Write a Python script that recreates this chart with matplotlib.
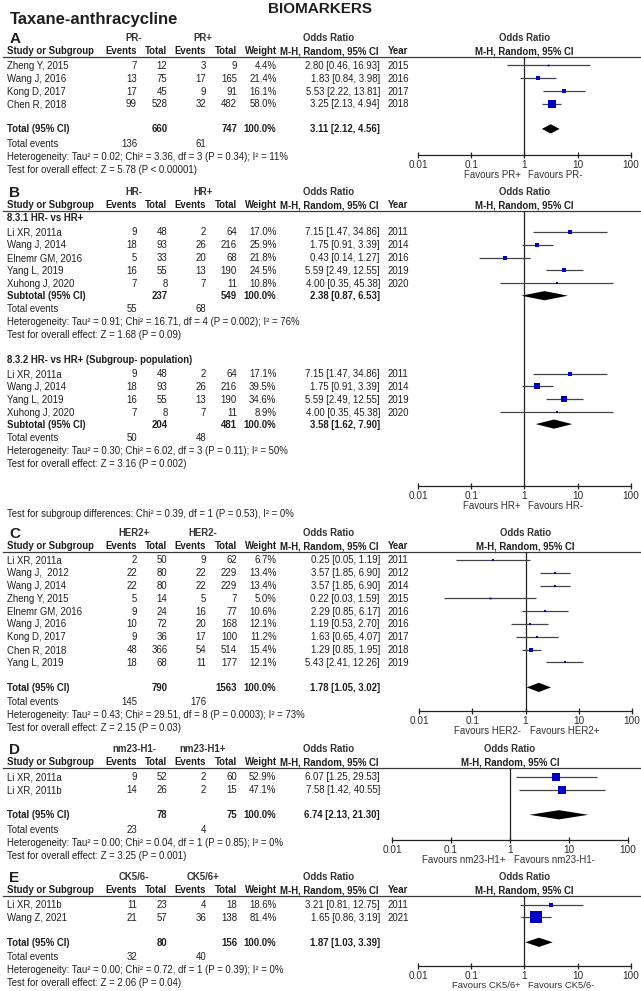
import matplotlib
matplotlib.use("Agg")
import matplotlib.pyplot as plt
from matplotlib.patches import Polygon
from matplotlib.ticker import NullLocator

plt.rcParams['font.family'] = ['Liberation Sans', 'DejaVu Sans']

# ---------------- data ----------------
# A: PR- vs PR+
a_study = ["Zheng Y, 2015", "Wang J, 2016", "Kong D, 2017", "Chen R, 2018"]
a_ev1 = [7, 13, 17, 99]
a_tot1 = [12, 75, 45, 528]
a_ev2 = [3, 17, 9, 32]
a_tot2 = [9, 165, 91, 482]
a_weight = [4.4, 21.4, 16.1, 58.0]
a_or = [2.80, 1.83, 5.53, 3.25]
a_lo = [0.46, 0.84, 2.22, 2.13]
a_hi = [16.93, 3.98, 13.81, 4.94]
a_year = [2015, 2016, 2017, 2018]
a_total = [660, 747]
a_pooled = [3.11, 2.12, 4.56]
a_events = [136, 61]
a_het = "Heterogeneity: Tau² = 0.02; Chi² = 3.36, df = 3 (P = 0.34); I² = 11%"
a_z = "Test for overall effect: Z = 5.78 (P < 0.00001)"

# B: HR- vs HR+, subgroup 8.3.1
b1_study = ["Li XR, 2011a", "Wang J, 2014", "Elnemr GM, 2016", "Yang L, 2019", "Xuhong J, 2020"]
b1_ev1 = [9, 18, 5, 16, 7]
b1_tot1 = [48, 93, 33, 55, 8]
b1_ev2 = [2, 26, 20, 13, 7]
b1_tot2 = [64, 216, 68, 190, 11]
b1_weight = [17.0, 25.9, 21.8, 24.5, 10.8]
b1_or = [7.15, 1.75, 0.43, 5.59, 4.00]
b1_lo = [1.47, 0.91, 0.14, 2.49, 0.35]
b1_hi = [34.86, 3.39, 1.27, 12.55, 45.38]
b1_year = [2011, 2014, 2016, 2019, 2020]
b1_total = [237, 549]
b1_pooled = [2.38, 0.87, 6.53]
b1_events = [55, 68]
b1_het = "Heterogeneity: Tau² = 0.91; Chi² = 16.71, df = 4 (P = 0.002); I² = 76%"
b1_z = "Test for overall effect: Z = 1.68 (P = 0.09)"

# B: subgroup 8.3.2
b2_study = ["Li XR, 2011a", "Wang J, 2014", "Yang L, 2019", "Xuhong J, 2020"]
b2_ev1 = [9, 18, 16, 7]
b2_tot1 = [48, 93, 55, 8]
b2_ev2 = [2, 26, 13, 7]
b2_tot2 = [64, 216, 190, 11]
b2_weight = [17.1, 39.5, 34.6, 8.9]
b2_or = [7.15, 1.75, 5.59, 4.00]
b2_lo = [1.47, 0.91, 2.49, 0.35]
b2_hi = [34.86, 3.39, 12.55, 45.38]
b2_year = [2011, 2014, 2019, 2020]
b2_total = [204, 481]
b2_pooled = [3.58, 1.62, 7.90]
b2_events = [50, 48]
b2_het = "Heterogeneity: Tau² = 0.30; Chi² = 6.02, df = 3 (P = 0.11); I² = 50%"
b2_z = "Test for overall effect: Z = 3.16 (P = 0.002)"
b_diff = "Test for subgroup differences: Chi² = 0.39, df = 1 (P = 0.53), I² = 0%"

# C: HER2+ vs HER2-
c_study = ["Li XR, 2011a", "Wang J,  2012", "Wang J, 2014", "Zheng Y, 2015", "Elnemr GM, 2016",
           "Wang J, 2016", "Kong D, 2017", "Chen R, 2018", "Yang L, 2019"]
c_ev1 = [2, 22, 22, 5, 9, 10, 9, 48, 18]
c_tot1 = [50, 80, 80, 14, 24, 72, 36, 366, 68]
c_ev2 = [9, 22, 22, 5, 16, 20, 17, 54, 11]
c_tot2 = [62, 229, 229, 7, 77, 168, 100, 514, 177]
c_weight = [6.7, 13.4, 13.4, 5.0, 10.6, 12.1, 11.2, 15.4, 12.1]
c_or = [0.25, 3.57, 3.57, 0.22, 2.29, 1.19, 1.63, 1.29, 5.43]
c_lo = [0.05, 1.85, 1.85, 0.03, 0.85, 0.53, 0.65, 0.85, 2.41]
c_hi = [1.19, 6.90, 6.90, 1.59, 6.17, 2.70, 4.07, 1.95, 12.26]
c_year = [2011, 2012, 2014, 2015, 2016, 2016, 2017, 2018, 2019]
c_total = [790, 1563]
c_pooled = [1.78, 1.05, 3.02]
c_events = [145, 176]
c_het = "Heterogeneity: Tau² = 0.43; Chi² = 29.51, df = 8 (P = 0.0003); I² = 73%"
c_z = "Test for overall effect: Z = 2.15 (P = 0.03)"

# D: nm23-H1- vs nm23-H1+
d_study = ["Li XR, 2011a", "Li XR, 2011b"]
d_ev1 = [9, 14]
d_tot1 = [52, 26]
d_ev2 = [2, 2]
d_tot2 = [60, 15]
d_weight = [52.9, 47.1]
d_or = [6.07, 7.58]
d_lo = [1.25, 1.42]
d_hi = [29.53, 40.55]
d_total = [78, 75]
d_pooled = [6.74, 2.13, 21.30]
d_events = [23, 4]
d_het = "Heterogeneity: Tau² = 0.00; Chi² = 0.04, df = 1 (P = 0.85); I² = 0%"
d_z = "Test for overall effect: Z = 3.25 (P = 0.001)"

# E: CK5/6- vs CK5/6+
e_study = ["Li XR, 2011b", "Wang Z, 2021"]
e_ev1 = [11, 21]
e_tot1 = [23, 57]
e_ev2 = [4, 36]
e_tot2 = [18, 138]
e_weight = [18.6, 81.4]
e_or = [3.21, 1.65]
e_lo = [0.81, 0.86]
e_hi = [12.75, 3.19]
e_year = [2011, 2021]
e_total = [80, 156]
e_pooled = [1.87, 1.03, 3.39]
e_events = [32, 40]
e_het = "Heterogeneity: Tau² = 0.00; Chi² = 0.72, df = 1 (P = 0.39); I² = 0%"
e_z = "Test for overall effect: Z = 2.06 (P = 0.04)"

# ---------------- layout / style ----------------
W, H = 641, 991
TXT = '#1e1e1e'
GREY = '#3a3a3a'
BLUE = '#0000c4'
FS = 6.9
STEP = 12.8
COL = dict(ev1=137, tot1=167.5, ev2=206, tot2=237, w=276.5, ci=380, year=388)

fig = plt.figure(figsize=(W / 100, H / 100), dpi=100)
bg = fig.add_axes([0, 0, 1, 1])
bg.set_xlim(0, W)
bg.set_ylim(H, 0)
bg.axis('off')


def txt(x, y, s, ha='left', bold=False, size=FS, color=TXT):
    # y is the middle of the capital letters
    bg.text(x, y + 0.716 * size * 100 / 72 / 2, s, ha=ha, va='baseline', fontsize=size,
            fontweight='bold' if bold else 'normal', color=color)


def fmt_ci(v):
    return f"{v[0]:.2f} [{v[1]:.2f}, {v[2]:.2f}]"


def header(letter, g1, g2, yline, x1, year=True):
    txt(9.5, yline - 19, letter, bold=True, size=11)
    txt(134, yline - 19, g1, ha='center', bold=True, color='#333333')
    txt(203, yline - 19, g2, ha='center', bold=True, color='#333333')
    txt(329, yline - 19, "Odds Ratio", ha='center', bold=True, color='#333333')
    txt(329, yline - 6, "M-H, Random, 95% CI", ha='center', bold=True)
    txt(7, yline - 6, "Study or Subgroup", bold=True)
    txt(COL['ev1'], yline - 6, "Events", ha='right', bold=True)
    txt(COL['tot1'], yline - 6, "Total", ha='right', bold=True)
    txt(COL['ev2'], yline - 6, "Events", ha='right', bold=True)
    txt(COL['tot2'], yline - 6, "Total", ha='right', bold=True)
    txt(COL['w'], yline - 6, "Weight", ha='right', bold=True)
    if year:
        txt(COL['year'], yline - 6, "Year", bold=True)
    txt(x1, yline - 19, "Odds Ratio", ha='center', bold=True, color='#333333')
    txt(x1, yline - 6, "M-H, Random, 95% CI", ha='center', bold=True)
    bg.plot([3, W], [yline, yline], color=GREY, lw=0.9)


def study_block(y0, study, ev1, tot1, ev2, tot2, weight, ors, los, his, years):
    ys = [y0 + i * STEP for i in range(len(study))]
    for i, y in enumerate(ys):
        txt(7, y, study[i])
        txt(COL['ev1'], y, str(ev1[i]), ha='right')
        txt(COL['tot1'], y, str(tot1[i]), ha='right')
        txt(COL['ev2'], y, str(ev2[i]), ha='right')
        txt(COL['tot2'], y, str(tot2[i]), ha='right')
        txt(COL['w'], y, f"{weight[i]:.1f}%", ha='right')
        txt(COL['ci'], y, fmt_ci([ors[i], los[i], his[i]]), ha='right')
        if years is not None:
            txt(COL['year'], y, str(years[i]))
    return ys


def summary_block(y, label, total, pooled, events, het, z, gap=14.5):
    txt(7, y, label, bold=True)
    txt(COL['tot1'], y, str(total[0]), ha='right', bold=True)
    txt(COL['tot2'], y, str(total[1]), ha='right', bold=True)
    txt(COL['w'], y, "100.0%", ha='right', bold=True)
    txt(COL['ci'], y, fmt_ci(pooled), ha='right', bold=True)
    ye = y + gap
    txt(7, ye, "Total events")
    txt(COL['ev1'], ye, str(events[0]), ha='right')
    txt(COL['ev2'], ye, str(events[1]), ha='right')
    txt(7, ye + 13, het)
    txt(7, ye + 26, z)
    return ye + 26


def forest(yline, yaxis, xl, xr, groups, fav, fav_gap=19.5, fav_size=7):
    ax = fig.add_axes([xl / W, 1 - yaxis / H, (xr - xl) / W, (yaxis - yline) / H])
    ax.patch.set_alpha(0)
    ax.set_xscale('log')
    ax.set_xlim(0.01, 100)
    ax.set_ylim(yaxis, yline)
    for s in ['top', 'left', 'right']:
        ax.spines[s].set_visible(False)
    ax.spines['bottom'].set_color('#222222')
    ax.spines['bottom'].set_linewidth(0.9)
    ax.set_yticks([])
    ax.xaxis.set_minor_locator(NullLocator())
    ax.set_xticks([0.01, 0.1, 1, 10, 100])
    ax.set_xticklabels(['0.01', '0.1', '1', '10', '100'])
    ax.tick_params(axis='x', direction='inout', length=5, width=0.9, pad=0.8,
                   labelsize=7.2, labelcolor='#2a2a2a', color='#222222')
    ax.axvline(1, color='#222222', lw=0.9)
    for ys, ors, los, his, weight, ysum, pooled in groups:
        ax.hlines(ys, los, his, color='#444444', lw=0.9, zorder=2)
        for y, o, w in zip(ys, ors, weight):
            side = 1.2 + 0.125 * w
            ax.plot([o], [y], marker='s', ms=side * 0.72, mew=0, color=BLUE, zorder=3)
        est, lo, hi = pooled
        ax.add_patch(Polygon([(lo, ysum), (est, ysum - 4.6), (hi, ysum), (est, ysum + 4.6)],
                             closed=True, color='black', lw=0, zorder=3))
    # pixel position of OR = 1 for the favours labels
    x1 = xl + (xr - xl) / 2
    txt(x1 - 4, yaxis + fav_gap, fav[0], ha='right', color='#333333', size=fav_size)
    txt(x1 + 4, yaxis + fav_gap, fav[1], color='#333333', size=fav_size)


# ---------------- titles ----------------
txt(10, 18.5, "Taxane-anthracycline", bold=True, size=12)
txt(320, 7.5, "BIOMARKERS", ha='center', bold=True, size=11)

# ---------------- panel A ----------------
yl = 57
header("A", "PR-", "PR+", yl, 524.5)
ys = study_block(yl + 8.5, a_study, a_ev1, a_tot1, a_ev2, a_tot2, a_weight, a_or, a_lo, a_hi, a_year)
ysum = ys[-1] + 25
summary_block(ysum, "Total (95% CI)", a_total, a_pooled, a_events, a_het, a_z)
forest(yl, 155, 418, 631, [(ys, a_or, a_lo, a_hi, a_weight, ysum, a_pooled)],
       ("Favours PR+", "Favours PR-"))

# ---------------- panel B ----------------
yl = 211
header("B", "HR-", "HR+", yl, 524.5)
txt(7, yl + 6.5, "8.3.1 HR- vs HR+", bold=True)
ys1 = study_block(yl + 21, b1_study, b1_ev1, b1_tot1, b1_ev2, b1_tot2, b1_weight,
                  b1_or, b1_lo, b1_hi, b1_year)
ysub1 = ys1[-1] + 12.5
yend = summary_block(ysub1, "Subtotal (95% CI)", b1_total, b1_pooled, b1_events, b1_het, b1_z, gap=13)
yh2 = yend + 25
txt(7, yh2, "8.3.2 HR- vs HR+ (Subgroup- population)", bold=True)
ys2 = study_block(yh2 + 14, b2_study, b2_ev1, b2_tot1, b2_ev2, b2_tot2, b2_weight,
                  b2_or, b2_lo, b2_hi, b2_year)
ysub2 = ys2[-1] + 12
summary_block(ysub2, "Subtotal (95% CI)", b2_total, b2_pooled, b2_events, b2_het, b2_z, gap=13.5)
txt(7, 514, b_diff)
forest(yl, 486, 418, 631,
       [(ys1, b1_or, b1_lo, b1_hi, b1_weight, ysub1, b1_pooled),
        (ys2, b2_or, b2_lo, b2_hi, b2_weight, ysub2, b2_pooled)],
       ("Favours HR+", "Favours HR-"))

# ---------------- panel C ----------------
yl = 552
header("C", "HER2+", "HER2-", yl, 525.5)
ys = study_block(yl + 8, c_study, c_ev1, c_tot1, c_ev2, c_tot2, c_weight, c_or, c_lo, c_hi, c_year)
ysum = ys[-1] + 25
summary_block(ysum, "Total (95% CI)", c_total, c_pooled, c_events, c_het, c_z)
forest(yl, 711, 419, 632, [(ys, c_or, c_lo, c_hi, c_weight, ysum, c_pooled)],
       ("Favours HER2-", "Favours HER2+"))

# ---------------- panel D ----------------
yl = 768
header("D", "nm23-H1-", "nm23-H1+", yl, 510, year=False)
ys = study_block(yl + 9, d_study, d_ev1, d_tot1, d_ev2, d_tot2, d_weight, d_or, d_lo, d_hi, None)
ysum = ys[-1] + 25
summary_block(ysum, "Total (95% CI)", d_total, d_pooled, d_events, d_het, d_z)
forest(yl, 840, 392, 628, [(ys, d_or, d_lo, d_hi, d_weight, ysum, d_pooled)],
       ("Favours nm23-H1+", "Favours nm23-H1-"))

# ---------------- panel E ----------------
yl = 896
header("E", "CK5/6-", "CK5/6+", yl, 524.5)
ys = study_block(yl + 8.5, e_study, e_ev1, e_tot1, e_ev2, e_tot2, e_weight, e_or, e_lo, e_hi, e_year)
ysum = ys[-1] + 25
summary_block(ysum, "Total (95% CI)", e_total, e_pooled, e_events, e_het, e_z)
forest(yl, 966, 418, 631, [(ys, e_or, e_lo, e_hi, e_weight, ysum, e_pooled)],
       ("Favours CK5/6+", "Favours CK5/6-"), fav_gap=19, fav_size=6.8)

fig.savefig("out.png", dpi=100, facecolor='white')
